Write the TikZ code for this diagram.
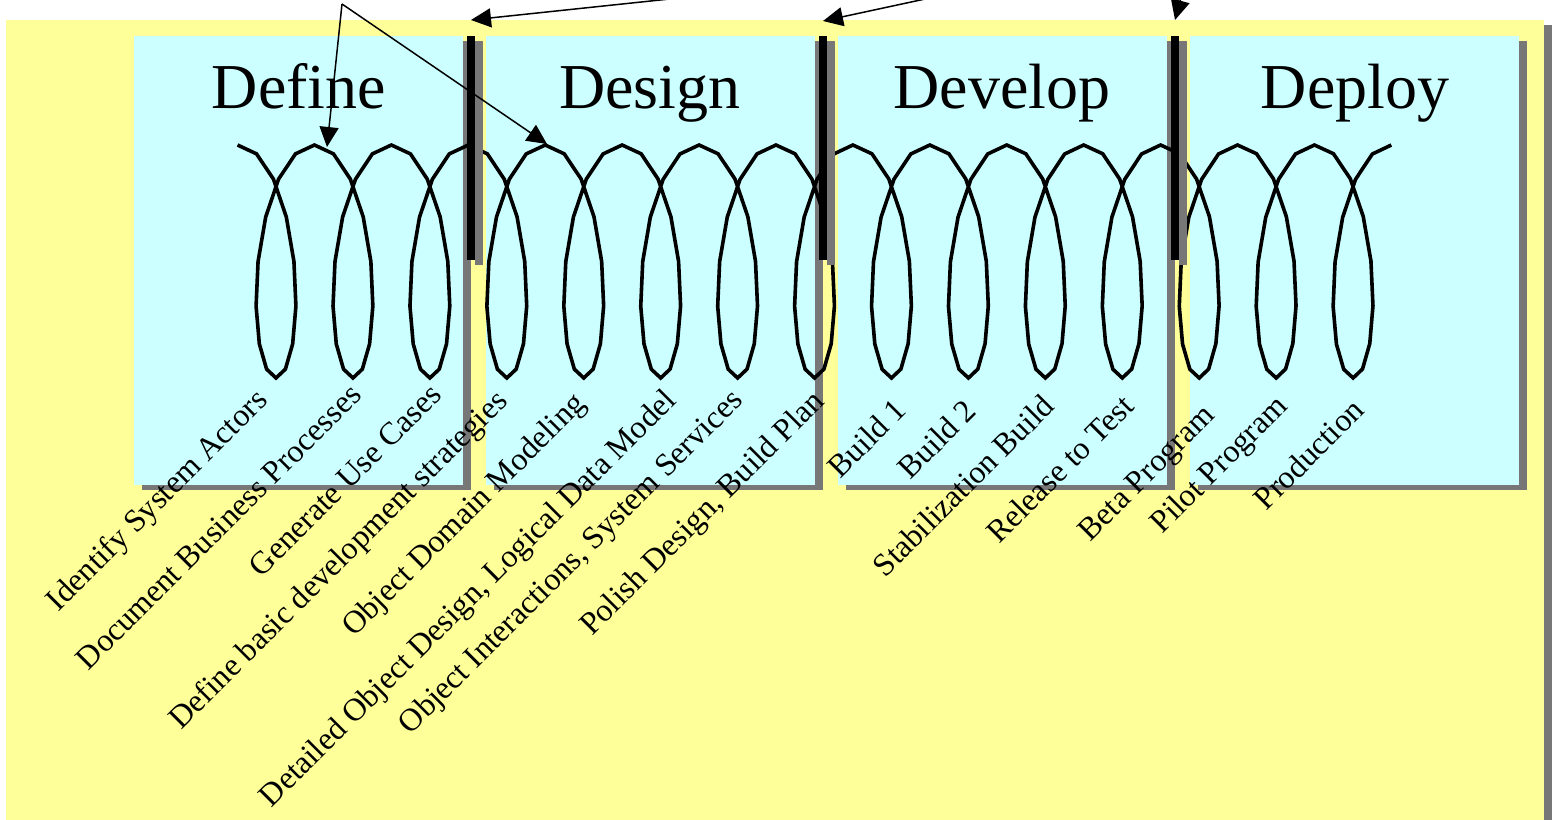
\documentclass[tikz,border=0pt]{standalone}
\usepackage{fontspec}
\setmainfont{Liberation Serif}
\usetikzlibrary{arrows.meta}
\definecolor{bgyellow}{HTML}{FFFF99}
\definecolor{boxcyan}{HTML}{CCFFFF}
\definecolor{shadegray}{HTML}{777777}
\newcommand\TitleFnt{\fontsize{64}{70}\selectfont}
\newcommand\LabelFnt{\fontsize{32}{36}\selectfont}
\tikzset{
  panel/.style={fill=boxcyan, draw=none, minimum width=329pt, minimum height=449pt, inner sep=0pt, anchor=north west},
  panelshadow/.style={fill=shadegray, draw=none, minimum width=329pt, minimum height=449pt, inner sep=0pt, anchor=north west},
  gatebar/.style={fill=black, draw=none, minimum width=8pt, minimum height=224pt, inner sep=0pt, anchor=north west},
  gateshadow/.style={fill=shadegray, draw=none, minimum width=8pt, minimum height=224pt, inner sep=0pt, anchor=north west},
  phasetitle/.style={font=\TitleFnt, anchor=base, inner sep=0pt},
  tasklabel/.style={font=\LabelFnt, rotate=45, anchor=base east, inner sep=0pt},
  coil/.style={line width=3.6pt, line join=miter, line cap=butt},
  pointer/.style={line width=1.5pt, -{Triangle[length=20pt,width=19pt]}}
}
\begin{document}
\begin{tikzpicture}[x=1pt,y=-1pt]
\useasboundingbox (0,0) rectangle (1552,819);
% background
\fill[shadegray] (14,25) rectangle (1560,830);
\node[fill=bgyellow, draw=none, inner sep=0pt, minimum width=1538pt, minimum height=810pt, anchor=north west] (bg) at (6,20) {};
% panel shadows and panels
\node[panelshadow] (s1) at (142,41) {};
\node[panelshadow] (s2) at (494,41) {};
\node[panelshadow] (s3) at (846,41) {};
\node[panelshadow] (s4) at (1198,41) {};
\node[panel] (p1) at (134,36) {};
\node[panel] (p2) at (486,36) {};
\node[panel] (p3) at (838,36) {};
\node[panel] (p4) at (1190,36) {};
% titles
\node[phasetitle] (tDefine) at (299,108) {Define};
\node[phasetitle] (tDesign) at (650,108) {Design};
\node[phasetitle] (tDevelop) at (1002,108) {Develop};
\node[phasetitle] (tDeploy) at (1355,108) {Deploy};
% coil
\draw[coil] plot[domain=-pi:29*pi, samples=241]
  ({276 + 12.244*\x - 37.17*sin(\x r)}, {261.5 + 116.5*cos(\x r)});
% task labels
\node[tasklabel] (l1) at (269,402) {Identify System Actors};
\node[tasklabel] (l2) at (363,397) {Document Business Processes};
\node[tasklabel] (l3) at (443,397) {Generate Use Cases};
\node[tasklabel] (l4) at (509,403) {Define basic development strategies};
\node[tasklabel] (l5) at (587,405) {Object Domain Modeling};
\node[tasklabel] (l6) at (678,402) {Detailed Object Design, Logical Data Model};
\node[tasklabel] (l7) at (744,402) {Object Interactions, System Services};
\node[tasklabel] (l8) at (826,403) {Polish Design, Build Plan};
\node[tasklabel] (l9) at (908,412) {Build 1};
\node[tasklabel] (l10) at (978,413) {Build 2};
\node[tasklabel] (l11) at (1056,408) {Stabilization Build};
\node[tasklabel] (l12) at (1136,408) {Release to Test};
\node[tasklabel] (l13) at (1216,417) {Beta Program};
\node[tasklabel] (l14) at (1289,408) {Pilot Program};
\node[tasklabel] (l15) at (1366,412) {Production};
% gate bars
\node[gateshadow] (gs1) at (474.5,41) {};
\node[gateshadow] (gs2) at (826.5,41) {};
\node[gateshadow] (gs3) at (1178.5,41) {};
\node[gatebar] (g1) at (466.5,36) {};
\node[gatebar] (g2) at (818.5,36) {};
\node[gatebar] (g3) at (1170.5,36) {};
% pointers
\coordinate (src1) at (342,4);
\coordinate (tip1) at (327,147);
\coordinate (tip2) at (547,144);
\coordinate (src3) at (698,-4);
\coordinate (tip3) at (471,20);
\coordinate (src4) at (939,-4);
\coordinate (tip4) at (823,21);
\coordinate (src5) at (1185,-17);
\coordinate (tip5) at (1175,20);
\draw[pointer] (src1) -- (tip1);
\draw[pointer] (src1) -- (tip2);
\draw[pointer] (src3) -- (tip3);
\draw[pointer] (src4) -- (tip4);
\draw[pointer] (src5) -- (tip5);
\end{tikzpicture}
\end{document}
